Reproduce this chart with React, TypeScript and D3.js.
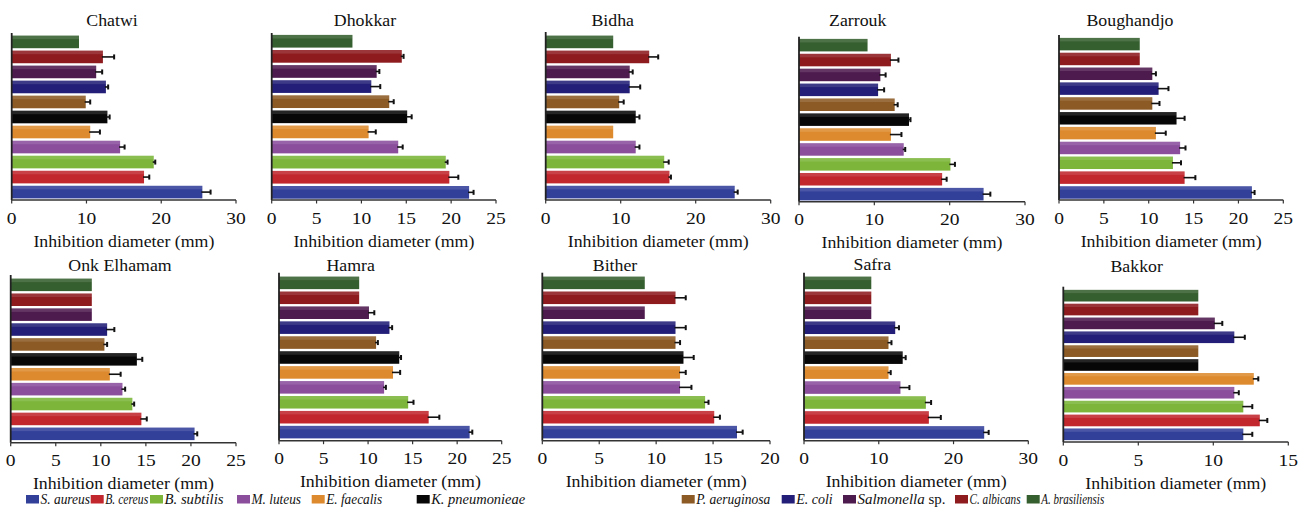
import React, { useEffect } from "react";
import * as d3 from "d3";

// ---------- DATA ----------
const species = [
  "S. aureus", "B. cereus", "B. subtilis", "M. luteus", "E. faecalis",
  "K. pneumonieae", "P. aeruginosa", "E. coli", "Salmonella sp.", "C. albicans", "A. brasiliensis",
];
const legendItalic = [
  "S. aureus", "B. cereus", "B. subtilis", "M. luteus", "E. faecalis",
  "K. pneumonieae", "P. aeruginosa", "E. coli", "Salmonella", "C. albicans", "A. brasiliensis",
];
const legendPlain = ["", "", "", "", "", "", "", "", " sp.", "", ""];

const panelNames = ["Chatwi", "Dhokkar", "Bidha", "Zarrouk", "Boughandjo", "Onk Elhamam", "Hamra", "Bither", "Safra", "Bakkor"];
const panelMax = [30, 25, 30, 30, 25, 25, 25, 20, 30, 15];
const panelStep = [10, 5, 10, 10, 5, 5, 5, 5, 10, 5];

// values in species order
const chatwi = [25.5, 17.7, 19.0, 14.5, 10.5, 12.8, 9.9, 12.6, 11.3, 12.2, 9.0];
const chatwiErr = [1.1, 0.7, 0.2, 0.6, 1.3, 0.3, 0.6, 0.3, 0.8, 1.5, 0];
const dhokkar = [22.0, 19.8, 19.4, 14.1, 10.8, 15.1, 13.1, 11.1, 11.7, 14.5, 9.0];
const dhokkarErr = [0.5, 1.0, 0.2, 0.5, 0.8, 0.5, 0.5, 1.0, 0.3, 0.2, 0];
const bidha = [25.2, 16.5, 15.8, 12.0, 9.0, 12.0, 9.8, 11.2, 11.2, 13.8, 9.0];
const bidhaErr = [0.4, 0.2, 0.6, 0.5, 0, 0.5, 0.6, 1.4, 0.4, 1.2, 0];
const zarrouk = [24.5, 19.0, 20.1, 13.9, 12.2, 14.6, 12.7, 10.5, 10.8, 12.2, 9.1];
const zarroukErr = [0.9, 0.6, 0.6, 0.2, 1.4, 0.2, 0.4, 0.8, 0.7, 1.0, 0];
const boughandjo = [21.5, 14.0, 12.7, 13.5, 10.8, 13.1, 10.4, 11.1, 10.4, 9.0, 9.0];
const boughandjoErr = [0.3, 1.2, 0.9, 0.6, 1.1, 0.9, 0.8, 1.1, 0.4, 0, 0];
const onkElhamam = [20.4, 14.5, 13.5, 12.4, 11.0, 14.0, 10.4, 10.7, 9.0, 9.0, 9.0];
const onkElhamamErr = [0.3, 0.6, 0.2, 0.3, 1.2, 0.6, 0.3, 0.8, 0, 0, 0];
const hamra = [21.4, 16.8, 14.5, 11.8, 12.8, 13.5, 10.9, 12.4, 10.1, 9.0, 9.0];
const hamraErr = [0.3, 1.2, 0.6, 0.2, 0.8, 0.2, 0.2, 0.3, 0.6, 0, 0];
const bither = [17.1, 15.1, 14.3, 12.1, 12.1, 12.4, 11.7, 11.7, 9.0, 11.7, 9.0];
const bitherErr = [0.5, 0.5, 0.3, 1.0, 0.5, 0.9, 0.4, 0.9, 0, 0.9, 0];
const safra = [24.1, 16.7, 16.3, 12.9, 11.3, 13.2, 11.3, 12.2, 9.0, 9.0, 9.0];
const safraErr = [0.6, 1.6, 0.7, 1.2, 0.3, 0.4, 0.4, 0.5, 0, 0, 0];
const bakkor = [12.0, 13.1, 12.0, 11.4, 12.7, 9.0, 9.0, 11.4, 10.1, 9.0, 9.0];
const bakkorErr = [0.6, 0.5, 0.6, 0.3, 0.3, 0, 0, 0.7, 0.5, 0, 0];

const panelValues = [chatwi, dhokkar, bidha, zarrouk, boughandjo, onkElhamam, hamra, bither, safra, bakkor];
const panelErrors = [chatwiErr, dhokkarErr, bidhaErr, zarroukErr, boughandjoErr, onkElhamamErr, hamraErr, bitherErr, safraErr, bakkorErr];

// ---------- STYLE / LAYOUT ----------
const colors = [
  "#33409a", "#c1272d", "#7cb53a", "#8a4e9c", "#dd8a2e",
  "#070707", "#8c5a24", "#231f78", "#4e1b4f", "#8e1c1f", "#365f2f",
];

// [x0, x1, axisTop, barTop, barBottom, axisY, titleX, titleY]
const layouts = [
  [11.7, 236, 33, 35, 199, 200, 112, 26],
  [271.7, 496, 33, 34.3, 199.3, 200, 365, 26],
  [545.7, 770.7, 32, 35, 199, 200, 612.7, 25.7],
  [799, 1025, 36.7, 38.3, 201, 201.7, 857.7, 25.7],
  [1059, 1283.3, 35, 37.3, 199.3, 200, 1130, 25.7],
  [10.7, 236, 275, 278, 440.7, 442.7, 120, 270.7],
  [279, 501.7, 272.7, 276, 439, 440.7, 350.7, 270.7],
  [542.3, 770, 272.7, 276, 439, 440.7, 615, 270.7],
  [804, 1028.3, 272.7, 276, 439.3, 440.7, 872.3, 270],
  [1063.3, 1288.3, 286.7, 289.3, 440.7, 442, 1136.7, 271.7],
];

// legend positions: swatch x and fitted text width
const legendSwatchX = [26, 90.7, 150, 237, 311.7, 416.7, 681.7, 781.7, 843, 955, 1026.7];
const legendTextW = [49.5, 43, 59, 49.5, 56, 94, 74, 36.5, 88, 51, 63];

const FONT = "Liberation Serif, Times New Roman, Times, serif";

function Panel({ idx }: { idx: number }) {
  const [x0, x1, axisTop, barTop, barBottom, axisY, titleX, titleY] = layouts[idx];
  const values = panelValues[idx];
  const errs = panelErrors[idx];
  const max = panelMax[idx];
  const x = d3.scaleLinear().domain([0, max]).range([x0, x1]);
  const order = species.slice().reverse(); // top = A. brasiliensis
  const y = d3.scaleBand<string>().domain(order).range([barTop, barBottom]).paddingInner(0.16).paddingOuter(0.04);
  const ticks = d3.range(0, max + 0.001, panelStep[idx]);
  const bh = y.bandwidth();
  return (
    <g>
      <text
        transform={`translate(${titleX},${titleY}) scale(1.08,1)`}
        textAnchor="middle"
        style={{ fontFamily: FONT, fontSize: "16.5px" }}
        fill="#111"
      >
        {panelNames[idx]}
      </text>
      {species.map((s, i) => {
        const yy = y(s) as number;
        const v = values[i];
        const e = errs[i];
        return (
          <g key={s}>
            <rect x={x(0)} y={yy} width={x(v) - x(0)} height={bh} fill={colors[i]} />
            <rect x={x(0)} y={yy} width={x(v) - x(0)} height={bh * 0.28} fill="#fff" opacity={0.12} />
            {e > 0 && (
              <g stroke="#111" strokeWidth={1.6}>
                <line x1={x(v) - 1} x2={x(v + e)} y1={yy + bh / 2} y2={yy + bh / 2} />
                <line x1={x(v + e)} x2={x(v + e)} y1={yy + bh / 2 - 2.5} y2={yy + bh / 2 + 2.5} strokeWidth={2} />
              </g>
            )}
          </g>
        );
      })}
      <line x1={x0} x2={x0} y1={axisTop} y2={axisY} stroke="#222" strokeWidth={1.8} />
      <line x1={x0} x2={x1} y1={axisY} y2={axisY} stroke="#333" strokeWidth={1.5} />
      {ticks.map((t) => (
        <g key={t}>
          <line x1={x(t)} x2={x(t)} y1={axisY} y2={axisY + 3.5} stroke="#333" strokeWidth={1.2} />
          <text
            transform={`translate(${x(t)},${axisY + 23.5}) scale(1.22,1)`}
            textAnchor="middle"
            style={{ fontFamily: FONT, fontSize: "16px" }}
            fill="#111"
          >
            {t}
          </text>
        </g>
      ))}
      <text
        transform={`translate(${(x0 + x1) / 2},${axisY + 46.5}) scale(1.08,1)`}
        textAnchor="middle"
        style={{ fontFamily: FONT, fontSize: "16.5px" }}
        fill="#111"
      >
        Inhibition diameter (mm)
      </text>
    </g>
  );
}

export default function App() {
  useEffect(() => {
    document.body.style.margin = "0";
  }, []);
  return (
    <svg
      width={1306}
      height={514}
      style={{ position: "absolute", left: 0, top: 0, background: "#fff" }}
    >
      <rect width={1306} height={514} fill="#fff" />
      {panelNames.map((_, i) => (
        <Panel key={i} idx={i} />
      ))}
      {species.map((s, i) => (
        <g key={s}>
          <rect x={legendSwatchX[i]} y={495} width={13} height={8.5} fill={colors[i]} />
          <text
            x={legendSwatchX[i] + 14.5}
            y={504}
            textLength={legendTextW[i]}
            lengthAdjust="spacingAndGlyphs"
            style={{ fontFamily: FONT, fontSize: "14.5px" }}
            fill="#111"
          >
            <tspan fontStyle="italic">{legendItalic[i]}</tspan>
            {legendPlain[i] && <tspan fontStyle="normal">{legendPlain[i]}</tspan>}
          </text>
        </g>
      ))}
    </svg>
  );
}
